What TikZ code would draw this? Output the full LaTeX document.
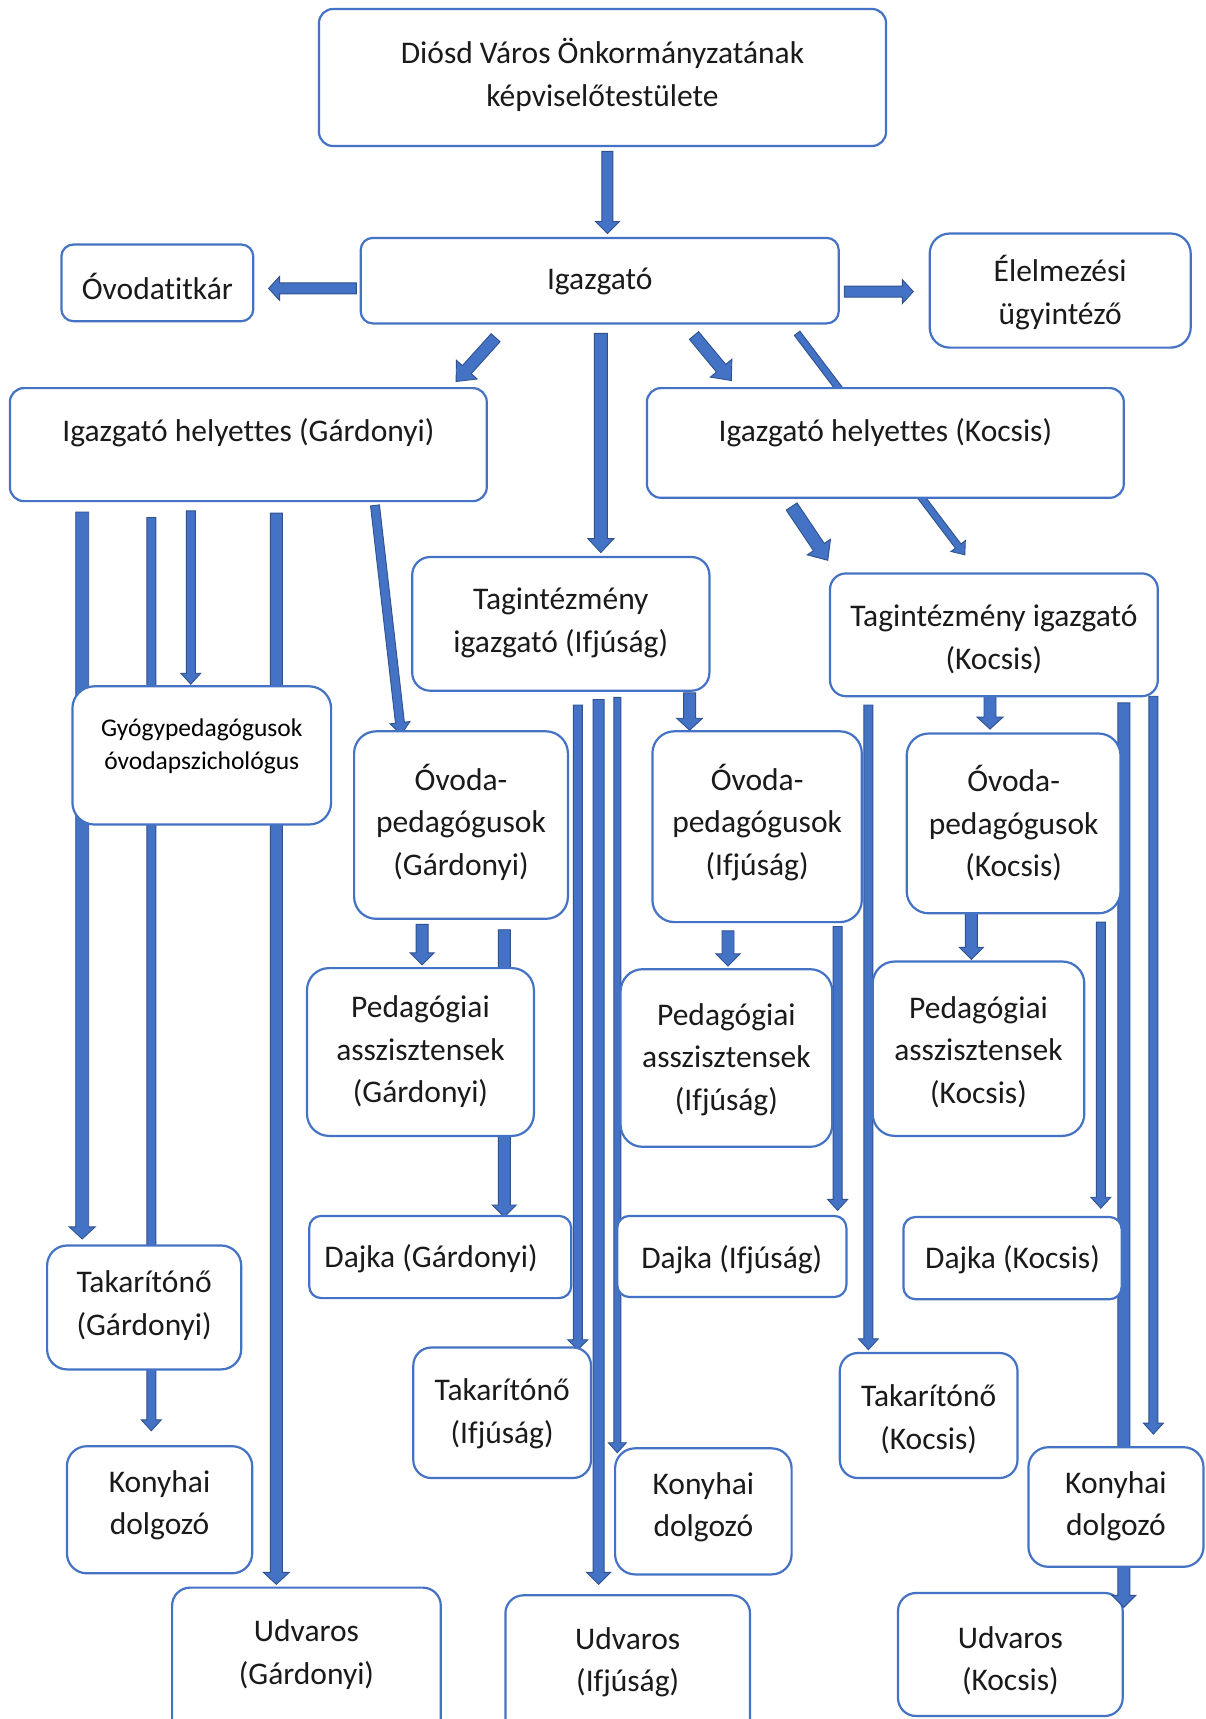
\documentclass[tikz,border=0pt]{standalone}
\usepackage{fontspec}
\setmainfont{Carlito}[Ligatures=NoCommon]
\usetikzlibrary{calc}
\definecolor{ablue}{HTML}{4472C4}
\definecolor{dblue}{HTML}{2F528F}
\definecolor{tgray}{HTML}{1A1A1A}
\tikzset{
  box/.style={draw=ablue, line width=2.2pt, fill=white, inner sep=0pt},
  txt/.style={align=center, inner sep=0pt, font=\fontsize{31.5}{42.5}\selectfont, text=tgray},
  smalltxt/.style={align=center, inner sep=0pt, font=\fontsize{25.5}{33}\selectfont, text=black},
  arr/.style={fill=ablue, draw=dblue, line width=0.9pt, line join=miter},
}
% box: [radius] name x1 y1 x2 y2 texty text
\newcommand\bx[8][16]{%
  \pgfmathsetmacro\bw{#5-#3}\pgfmathsetmacro\bh{#6-#4}%
  \pgfmathsetmacro\bcx{(#3+#5)/2}\pgfmathsetmacro\bcy{(#4+#6)/2}%
  \node[box, rounded corners=#1pt, minimum width=\bw pt, minimum height=\bh pt] (#2) at (\bcx,\bcy) {};%
  \node[txt] (#2t) at (\bcx,#7) {#8};}
% block arrow: name x1 y1 x2 y2 halfshaft halfhead headlength
\newcommand\barrow[8]{%
  \coordinate (#1s) at (#2,#3);
  \coordinate (#1e) at (#4,#5);
  \coordinate (#1h) at ($(#1e)!#8pt!(#1s)$);
  \filldraw[arr] ($(#1s)!#6pt!90:(#1e)$) -- ($(#1h)!#6pt!90:(#1e)$) -- ($(#1h)!#7pt!90:(#1e)$) -- (#1e)
    -- ($(#1h)!#7pt!-90:(#1e)$) -- ($(#1h)!#6pt!-90:(#1e)$) -- ($(#1s)!#6pt!-90:(#1e)$) -- cycle;}
\begin{document}
\begin{tikzpicture}[x=1pt,y=-1pt]
\useasboundingbox (0,0) rectangle (1206,1719);
\fill[white] (0,0) rectangle (1206,1719);
\clip (0,0) rectangle (1206,1719);

% box lying under an arrow
\bx[18]{udk}{898}{1593}{1122.7}{1716}{1660.5}{Udvaros\\(Kocsis)}

% arrows
\barrow{a1}{607.4}{151.3}{607.4}{233.5}{5.5}{12}{12}
\barrow{a2}{356.3}{288.4}{268.6}{288.4}{5.5}{12}{11}
\barrow{a3}{844.2}{291.6}{913.3}{291.6}{5.5}{12}{11}
\barrow{a4}{495.6}{337.7}{456.1}{381.5}{6}{14}{16}
\barrow{a5}{600.8}{333.3}{600.8}{552.6}{6.5}{13}{14}
\barrow{a6}{694}{335.5}{731.3}{380.5}{6}{14}{16}
\barrow{a7}{797.1}{333.3}{964.8}{554.8}{3.5}{9}{11}
\barrow{a8}{791.6}{506.5}{827.8}{560.3}{6.5}{14}{16}
\barrow{a9}{375}{505.4}{401.3}{734.6}{4.5}{10}{12}
\barrow{a10}{82.2}{512}{82.2}{1238.9}{6.5}{13}{12}
\barrow{a11}{151.3}{517.5}{151.3}{1430.8}{4.5}{10}{11}
\barrow{a12}{190.8}{510.9}{190.8}{684.2}{4.5}{10}{11}
\barrow{a13}{276.3}{513.1}{276.3}{1584.3}{6}{13}{12}
\barrow{a14}{689.6}{692.9}{689.6}{730.2}{6}{13}{12}
\barrow{a15}{577.8}{705}{577.8}{1349.7}{4.5}{10}{10}
\barrow{a16}{598.6}{699.5}{598.6}{1584.3}{5.5}{12}{12}
\barrow{a17}{617.3}{697.3}{617.3}{1452.7}{3.5}{9}{10}
\barrow{a18}{990}{686.3}{990}{729.1}{6}{13}{12}
\barrow{a19}{868.4}{705}{868.4}{1349.7}{4.5}{10}{11}
\barrow{a20}{1123.8}{702.8}{1123.8}{1607.3}{6}{12}{12}
\barrow{a21}{1153.4}{696.2}{1153.4}{1434.1}{4.5}{10}{11}
\barrow{a22}{422.1}{924.3}{422.1}{964.8}{6}{12}{12}
\barrow{a23}{504.3}{929.7}{504.3}{1217}{6}{12}{12}
\barrow{a24}{728}{930.8}{728}{965.9}{6}{12}{12}
\barrow{a25}{837.6}{926.5}{837.6}{1210.4}{4.5}{10}{11}
\barrow{a26}{971.4}{913.3}{971.4}{959.4}{6}{12}{12}
\barrow{a27}{1100.8}{922.1}{1100.8}{1208.2}{4.5}{10}{11}

% boxes
\bx[14]{dios}{319}{9}{886}{146}{75}{Diósd Város Önkormányzatának\\képviselőtestülete}
\bx[12]{igaz}{360.7}{237.9}{838.7}{323.4}{281.7}{Igazgató}
\bx[12]{titk}{61.4}{244.5}{253.3}{321.2}{286.2}{Óvodatitkár}
\bx[20]{elel}{929.7}{233.5}{1190.7}{347.6}{292.6}{Élelmezési\\ügyintéző}
\bx[14]{ihg}{9.9}{388.1}{486.8}{501.1}{433}{Igazgató helyettes (Gárdonyi)}
\bx[14]{ihk}{646.9}{388.1}{1123.8}{497.8}{433}{Igazgató helyettes (Kocsis)}
\bx[18]{tgi}{412.2}{557}{709.4}{690.7}{623}{Tagintézmény\\igazgató (Ifjúság)}
\bx[16]{tgk}{830}{573.4}{1157.8}{696.2}{639.5}{Tagintézmény igazgató\\(Kocsis)}
\node[box, rounded corners=22pt, minimum width=258.7pt, minimum height=138.2pt] (gyo) at (201.75,755.4) {};
\node[smalltxt] (gyot) at (201.75,746.6) {Gyógypedagógusok\\óvodapszichológus};
\bx[22]{ovg}{354.1}{731.3}{567.9}{918.8}{822.2}{Óvoda-\\pedagógusok\\(Gárdonyi)}
\bx[22]{ovi}{652.4}{731.3}{861.8}{922.1}{822.2}{Óvoda-\\pedagógusok\\(Ifjúság)}
\bx[22]{ovk}{906.7}{733.5}{1120.5}{913.3}{823.3}{Óvoda-\\pedagógusok\\(Kocsis)}
\bx[22]{pag}{307}{968.1}{533.9}{1135.9}{1051.8}{Pedagógiai\\asszisztensek\\(Gárdonyi)}
\bx[22]{pai}{620.6}{969.2}{832.2}{1146.8}{1059.4}{Pedagógiai\\asszisztensek\\(Ifjúság)}
\bx[22]{pak}{872.7}{961.5}{1084.3}{1135.9}{1051.8}{Pedagógiai\\asszisztensek\\(Kocsis)}
\node[box, rounded corners=12pt, minimum width=262pt, minimum height=82.2pt] (dag) at (440.2,1257) {};
\node[txt] (dagt) at (431,1258.6) {Dajka (Gárdonyi)};
\bx[12]{dai}{617.3}{1215.9}{846.4}{1297}{1259.7}{Dajka (Ifjúság)}
\bx[12]{dak}{903.4}{1217}{1121.6}{1299.2}{1259.7}{Dajka (Kocsis)}
\bx[20]{tag}{47.1}{1245.5}{241.2}{1369.4}{1305.6}{Takarítónő\\(Gárdonyi)}
\bx[18]{tai}{413.3}{1347.5}{591}{1478}{1413.6}{Takarítónő\\(Ifjúság)}
\bx[18]{tak}{839.8}{1353}{1017.5}{1478}{1419}{Takarítónő\\(Kocsis)}
\bx[20]{kog}{66.9}{1446.2}{252.2}{1573.3}{1505.5}{Konyhai\\dolgozó}
\bx[20]{koi}{615.1}{1448.3}{791.6}{1574.4}{1507.5}{Konyhai\\dolgozó}
\bx[20]{kok}{1028.4}{1447.2}{1203.5}{1566.8}{1506.5}{Konyhai\\dolgozó}
\bx[18]{udg}{172.1}{1587.6}{440.8}{1745}{1654.5}{Udvaros\\(Gárdonyi)}
\bx[18]{udi}{505.4}{1595.3}{750}{1745}{1662}{Udvaros\\(Ifjúság)}
\end{tikzpicture}
\end{document}
